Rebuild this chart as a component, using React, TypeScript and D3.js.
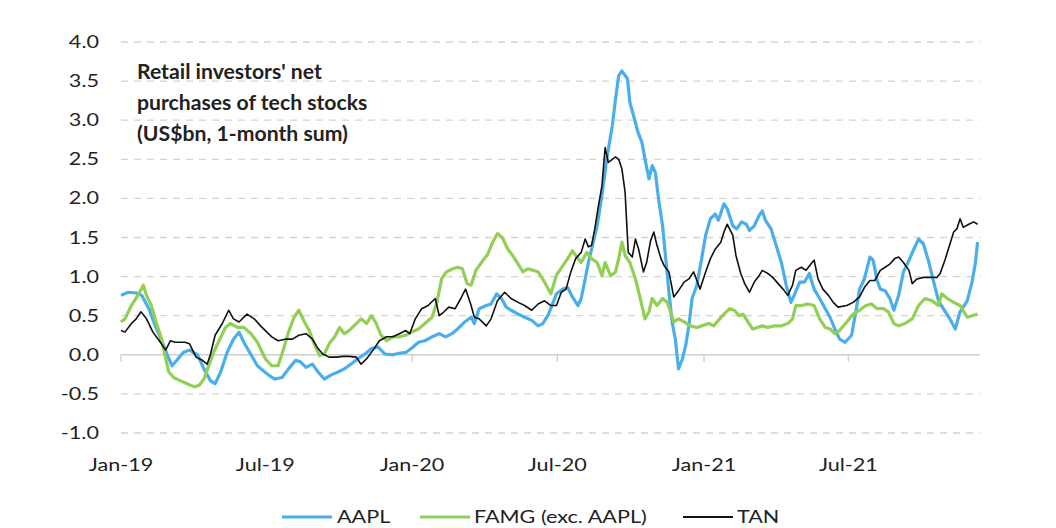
import React from "react";
import * as d3 from "d3";

const W = 1056;
const H = 528;

const yTicks = [-1, -0.5, 0, 0.5, 1, 1.5, 2, 2.5, 3, 3.5, 4];
const xTickDates = ["2019-01-01", "2019-07-01", "2020-01-01", "2020-07-01", "2021-01-01", "2021-07-01"];
const xTickLabels = ["Jan-19", "Jul-19", "Jan-20", "Jul-20", "Jan-21", "Jul-21"];
const seriesNames = ["AAPL", "FAMG (exc. AAPL)", "TAN"];
const seriesColors = ["#4AAEE8", "#92CF55", "#111111"];
const titleLines = ["Retail investors' net", "purchases of tech stocks", "(US$bn, 1-month sum)"];

const AAPL: [string, number][] = [
  ["2019-01-01", 0.76], ["2019-01-10", 0.8], ["2019-01-20", 0.79], ["2019-01-27", 0.76], ["2019-02-05", 0.59],
  ["2019-02-13", 0.37], ["2019-02-21", 0.18], ["2019-02-28", 0.0], ["2019-03-06", -0.14], ["2019-03-12", -0.07],
  ["2019-03-20", 0.03], ["2019-03-28", 0.06], ["2019-04-07", 0.0], ["2019-04-15", -0.18], ["2019-04-23", -0.33],
  ["2019-04-29", -0.37], ["2019-05-06", -0.22], ["2019-05-14", 0.03], ["2019-05-22", 0.2], ["2019-05-29", 0.29],
  ["2019-06-04", 0.16], ["2019-06-13", 0.0], ["2019-06-21", -0.14], ["2019-07-05", -0.26], ["2019-07-13", -0.31],
  ["2019-07-22", -0.29], ["2019-07-30", -0.18], ["2019-08-08", -0.07], ["2019-08-14", -0.09], ["2019-08-21", -0.16],
  ["2019-08-29", -0.12], ["2019-09-05", -0.22], ["2019-09-13", -0.31], ["2019-09-21", -0.26], ["2019-09-30", -0.22],
  ["2019-10-08", -0.18], ["2019-10-16", -0.12], ["2019-10-25", -0.05], ["2019-11-03", 0.01], ["2019-11-11", 0.08],
  ["2019-11-19", 0.1], ["2019-11-28", 0.01], ["2019-12-08", 0.0], ["2019-12-16", 0.02], ["2019-12-24", 0.03],
  ["2019-12-31", 0.08], ["2020-01-09", 0.16], ["2020-01-17", 0.18], ["2020-01-26", 0.23], ["2020-02-04", 0.27],
  ["2020-02-12", 0.23], ["2020-02-20", 0.27], ["2020-02-27", 0.33], ["2020-03-07", 0.42], ["2020-03-15", 0.48],
  ["2020-03-19", 0.4], ["2020-03-25", 0.59], ["2020-04-03", 0.63], ["2020-04-09", 0.65], ["2020-04-16", 0.78],
  ["2020-04-22", 0.72], ["2020-04-28", 0.61], ["2020-05-04", 0.57], ["2020-05-13", 0.52], ["2020-05-21", 0.48],
  ["2020-05-30", 0.44], ["2020-06-07", 0.37], ["2020-06-13", 0.4], ["2020-06-20", 0.52], ["2020-06-30", 0.78],
  ["2020-07-08", 0.84], ["2020-07-14", 0.86], ["2020-07-20", 0.74], ["2020-07-27", 0.63], ["2020-07-31", 0.72],
  ["2020-08-05", 0.97], ["2020-08-09", 1.18], ["2020-08-13", 1.35], ["2020-08-20", 1.65], ["2020-08-26", 2.04],
  ["2020-09-01", 2.5], ["2020-09-08", 2.93], ["2020-09-12", 3.27], ["2020-09-16", 3.57], ["2020-09-20", 3.63],
  ["2020-09-27", 3.53], ["2020-09-30", 3.23], ["2020-10-07", 2.97], ["2020-10-10", 2.85], ["2020-10-15", 2.72],
  ["2020-10-19", 2.5], ["2020-10-24", 2.25], ["2020-10-28", 2.42], ["2020-11-01", 2.33], ["2020-11-05", 1.99],
  ["2020-11-10", 1.65], ["2020-11-14", 1.23], ["2020-11-18", 0.8], ["2020-11-22", 0.42], ["2020-11-26", 0.2],
  ["2020-11-30", -0.18], ["2020-12-05", -0.05], ["2020-12-09", 0.12], ["2020-12-13", 0.37], ["2020-12-17", 0.72],
  ["2020-12-23", 0.89], ["2020-12-29", 1.23], ["2021-01-03", 1.53], ["2021-01-09", 1.74], ["2021-01-15", 1.8],
  ["2021-01-19", 1.72], ["2021-01-26", 1.93], ["2021-01-30", 1.87], ["2021-02-06", 1.65], ["2021-02-11", 1.61],
  ["2021-02-17", 1.7], ["2021-02-23", 1.67], ["2021-02-27", 1.59], ["2021-03-05", 1.65], ["2021-03-11", 1.78],
  ["2021-03-15", 1.84], ["2021-03-19", 1.72], ["2021-03-26", 1.61], ["2021-04-02", 1.38], ["2021-04-08", 1.18],
  ["2021-04-14", 0.89], ["2021-04-20", 0.67], ["2021-04-24", 0.76], ["2021-05-01", 0.93], ["2021-05-07", 0.93],
  ["2021-05-13", 1.04], ["2021-05-19", 0.84], ["2021-05-26", 0.72], ["2021-06-02", 0.59], ["2021-06-08", 0.48],
  ["2021-06-14", 0.33], ["2021-06-20", 0.2], ["2021-06-27", 0.16], ["2021-07-05", 0.25], ["2021-07-11", 0.59],
  ["2021-07-15", 0.84], ["2021-07-21", 0.97], ["2021-07-28", 1.25], ["2021-08-01", 1.21], ["2021-08-06", 0.95],
  ["2021-08-10", 0.84], ["2021-08-16", 0.82], ["2021-08-22", 0.72], ["2021-08-27", 0.57], ["2021-09-02", 0.76],
  ["2021-09-08", 1.06], ["2021-09-15", 1.21], ["2021-09-21", 1.35], ["2021-09-27", 1.48], ["2021-10-03", 1.42],
  ["2021-10-10", 1.18], ["2021-10-16", 0.93], ["2021-10-22", 0.69], ["2021-10-28", 0.59], ["2021-11-04", 0.48],
  ["2021-11-12", 0.33], ["2021-11-18", 0.55], ["2021-11-27", 0.69], ["2021-12-03", 0.93], ["2021-12-07", 1.16],
  ["2021-12-10", 1.44],
];

const FAMG: [string, number][] = [
  ["2019-01-01", 0.42], ["2019-01-06", 0.46], ["2019-01-14", 0.63], ["2019-01-22", 0.76], ["2019-01-29", 0.89],
  ["2019-02-02", 0.76], ["2019-02-08", 0.63], ["2019-02-14", 0.42], ["2019-02-21", 0.2], ["2019-02-26", -0.05],
  ["2019-03-02", -0.22], ["2019-03-08", -0.29], ["2019-03-16", -0.33], ["2019-03-25", -0.37], ["2019-04-03", -0.41],
  ["2019-04-09", -0.39], ["2019-04-15", -0.31], ["2019-04-21", -0.14], ["2019-04-27", 0.03], ["2019-05-04", 0.18],
  ["2019-05-12", 0.35], ["2019-05-18", 0.4], ["2019-05-27", 0.35], ["2019-06-04", 0.35], ["2019-06-13", 0.27],
  ["2019-06-21", 0.16], ["2019-07-01", -0.05], ["2019-07-09", -0.14], ["2019-07-17", -0.14], ["2019-07-24", 0.08],
  ["2019-07-30", 0.29], ["2019-08-06", 0.48], ["2019-08-12", 0.57], ["2019-08-19", 0.42], ["2019-08-25", 0.31],
  ["2019-09-01", 0.12], ["2019-09-07", -0.01], ["2019-09-13", 0.01], ["2019-09-19", 0.14], ["2019-09-26", 0.23],
  ["2019-10-02", 0.35], ["2019-10-08", 0.27], ["2019-10-14", 0.31], ["2019-10-23", 0.4], ["2019-10-29", 0.46],
  ["2019-11-05", 0.4], ["2019-11-11", 0.5], ["2019-11-17", 0.4], ["2019-11-23", 0.25], ["2019-11-30", 0.18],
  ["2019-12-08", 0.23], ["2019-12-16", 0.23], ["2019-12-24", 0.25], ["2019-12-31", 0.29], ["2020-01-09", 0.33],
  ["2020-01-17", 0.4], ["2020-01-26", 0.48], ["2020-02-01", 0.67], ["2020-02-07", 0.97], ["2020-02-13", 1.06],
  ["2020-02-21", 1.1], ["2020-02-27", 1.12], ["2020-03-04", 1.1], ["2020-03-10", 0.91], ["2020-03-15", 0.89],
  ["2020-03-21", 1.08], ["2020-03-30", 1.21], ["2020-04-05", 1.29], ["2020-04-11", 1.44], ["2020-04-17", 1.55],
  ["2020-04-23", 1.5], ["2020-04-30", 1.35], ["2020-05-06", 1.27], ["2020-05-13", 1.16], ["2020-05-19", 1.06],
  ["2020-05-25", 1.1], ["2020-06-01", 1.08], ["2020-06-07", 1.06], ["2020-06-15", 0.93], ["2020-06-23", 0.78],
  ["2020-06-30", 1.02], ["2020-07-08", 1.14], ["2020-07-14", 1.23], ["2020-07-20", 1.33], ["2020-07-24", 1.27],
  ["2020-07-31", 1.18], ["2020-08-07", 1.31], ["2020-08-13", 1.23], ["2020-08-20", 1.18], ["2020-08-26", 1.01],
  ["2020-08-30", 1.18], ["2020-09-06", 1.01], ["2020-09-12", 1.06], ["2020-09-16", 1.23], ["2020-09-20", 1.44],
  ["2020-09-24", 1.27], ["2020-09-30", 1.18], ["2020-10-07", 0.97], ["2020-10-13", 0.72], ["2020-10-19", 0.46],
  ["2020-10-24", 0.55], ["2020-10-28", 0.72], ["2020-11-03", 0.63], ["2020-11-10", 0.72], ["2020-11-16", 0.67],
  ["2020-11-20", 0.55], ["2020-11-24", 0.42], ["2020-11-30", 0.46], ["2020-12-07", 0.42], ["2020-12-15", 0.37],
  ["2020-12-23", 0.35], ["2020-12-29", 0.37], ["2021-01-07", 0.4], ["2021-01-13", 0.37], ["2021-01-19", 0.44],
  ["2021-01-26", 0.52], ["2021-02-02", 0.59], ["2021-02-08", 0.57], ["2021-02-14", 0.5], ["2021-02-19", 0.52],
  ["2021-02-25", 0.42], ["2021-03-03", 0.33], ["2021-03-09", 0.35], ["2021-03-15", 0.37], ["2021-03-22", 0.35],
  ["2021-03-30", 0.37], ["2021-04-08", 0.37], ["2021-04-16", 0.4], ["2021-04-22", 0.46], ["2021-04-26", 0.63],
  ["2021-05-03", 0.63], ["2021-05-11", 0.65], ["2021-05-19", 0.63], ["2021-05-26", 0.46], ["2021-06-02", 0.35],
  ["2021-06-08", 0.33], ["2021-06-14", 0.27], ["2021-06-20", 0.31], ["2021-06-29", 0.42], ["2021-07-07", 0.52],
  ["2021-07-15", 0.57], ["2021-07-23", 0.63], ["2021-07-30", 0.65], ["2021-08-06", 0.59], ["2021-08-14", 0.59],
  ["2021-08-20", 0.55], ["2021-08-27", 0.4], ["2021-09-02", 0.37], ["2021-09-10", 0.4], ["2021-09-19", 0.46],
  ["2021-09-27", 0.63], ["2021-10-05", 0.72], ["2021-10-14", 0.69], ["2021-10-22", 0.63], ["2021-10-26", 0.78],
  ["2021-11-02", 0.72], ["2021-11-10", 0.67], ["2021-11-18", 0.63], ["2021-11-27", 0.48], ["2021-12-03", 0.5],
  ["2021-12-10", 0.52],
];

const TAN: [string, number][] = [
  ["2019-01-01", 0.31], ["2019-01-06", 0.29], ["2019-01-14", 0.4], ["2019-01-20", 0.46], ["2019-01-26", 0.55],
  ["2019-02-02", 0.46], ["2019-02-10", 0.29], ["2019-02-18", 0.18], ["2019-02-26", 0.06], ["2019-03-04", 0.18],
  ["2019-03-10", 0.16], ["2019-03-16", 0.16], ["2019-03-22", 0.16], ["2019-03-28", 0.14], ["2019-04-05", -0.03],
  ["2019-04-13", -0.07], ["2019-04-19", -0.12], ["2019-04-23", 0.0], ["2019-04-29", 0.25], ["2019-05-08", 0.4],
  ["2019-05-16", 0.57], ["2019-05-22", 0.46], ["2019-05-29", 0.42], ["2019-06-08", 0.52], ["2019-06-17", 0.46],
  ["2019-06-25", 0.37], ["2019-07-01", 0.31], ["2019-07-09", 0.23], ["2019-07-17", 0.18], ["2019-07-26", 0.2],
  ["2019-08-04", 0.2], ["2019-08-12", 0.25], ["2019-08-21", 0.27], ["2019-08-29", 0.2], ["2019-09-05", 0.08],
  ["2019-09-11", 0.01], ["2019-09-19", -0.03], ["2019-09-28", -0.03], ["2019-10-06", -0.02], ["2019-10-14", -0.02],
  ["2019-10-23", -0.03], ["2019-10-29", -0.12], ["2019-11-05", -0.05], ["2019-11-13", 0.06], ["2019-11-21", 0.18],
  ["2019-11-30", 0.23], ["2019-12-08", 0.23], ["2019-12-16", 0.27], ["2019-12-24", 0.31], ["2019-12-29", 0.27],
  ["2020-01-05", 0.46], ["2020-01-13", 0.59], ["2020-01-21", 0.63], ["2020-01-30", 0.72], ["2020-02-04", 0.5],
  ["2020-02-10", 0.55], ["2020-02-16", 0.61], ["2020-02-24", 0.59], ["2020-03-02", 0.72], ["2020-03-08", 0.84],
  ["2020-03-15", 0.63], ["2020-03-19", 0.48], ["2020-03-25", 0.46], ["2020-04-03", 0.37], ["2020-04-09", 0.46],
  ["2020-04-17", 0.69], ["2020-04-26", 0.8], ["2020-05-04", 0.72], ["2020-05-13", 0.67], ["2020-05-21", 0.63],
  ["2020-05-30", 0.57], ["2020-06-07", 0.65], ["2020-06-15", 0.69], ["2020-06-23", 0.63], ["2020-06-30", 0.63],
  ["2020-07-06", 0.8], ["2020-07-12", 0.84], ["2020-07-18", 1.06], ["2020-07-24", 1.23], ["2020-07-31", 1.31],
  ["2020-08-05", 1.48], ["2020-08-09", 1.38], ["2020-08-13", 1.4], ["2020-08-17", 1.61], ["2020-08-21", 1.87],
  ["2020-08-26", 2.16], ["2020-08-30", 2.65], ["2020-09-03", 2.46], ["2020-09-08", 2.5], ["2020-09-12", 2.53],
  ["2020-09-16", 2.5], ["2020-09-20", 2.38], ["2020-09-24", 2.08], ["2020-09-28", 1.31], ["2020-10-03", 1.25],
  ["2020-10-07", 1.48], ["2020-10-11", 1.35], ["2020-10-17", 1.06], ["2020-10-21", 1.18], ["2020-10-26", 1.46],
  ["2020-10-30", 1.57], ["2020-11-03", 1.4], ["2020-11-08", 1.23], ["2020-11-12", 1.14], ["2020-11-18", 1.06],
  ["2020-11-24", 0.74], ["2020-11-30", 0.82], ["2020-12-07", 0.93], ["2020-12-13", 0.97], ["2020-12-19", 1.06],
  ["2020-12-23", 0.95], ["2020-12-27", 0.84], ["2021-01-03", 1.06], ["2021-01-09", 1.23], ["2021-01-15", 1.35],
  ["2021-01-22", 1.44], ["2021-01-26", 1.57], ["2021-01-30", 1.67], ["2021-02-06", 1.53], ["2021-02-10", 1.27],
  ["2021-02-16", 1.04], ["2021-02-21", 0.91], ["2021-02-27", 0.8], ["2021-03-05", 0.93], ["2021-03-11", 1.01],
  ["2021-03-15", 1.08], ["2021-03-22", 1.04], ["2021-03-28", 0.99], ["2021-04-04", 0.91], ["2021-04-10", 0.84],
  ["2021-04-16", 0.76], ["2021-04-22", 0.89], ["2021-04-26", 1.08], ["2021-05-03", 1.12], ["2021-05-09", 1.08],
  ["2021-05-15", 1.16], ["2021-05-19", 1.21], ["2021-05-24", 0.97], ["2021-05-30", 0.84], ["2021-06-06", 0.76],
  ["2021-06-12", 0.67], ["2021-06-18", 0.61], ["2021-06-29", 0.63], ["2021-07-07", 0.67], ["2021-07-15", 0.74],
  ["2021-07-21", 0.86], ["2021-07-28", 0.95], ["2021-08-03", 0.95], ["2021-08-10", 1.08], ["2021-08-16", 1.12],
  ["2021-08-22", 1.16], ["2021-08-28", 1.23], ["2021-09-02", 1.25], ["2021-09-08", 1.18], ["2021-09-15", 1.08],
  ["2021-09-19", 0.91], ["2021-09-25", 0.97], ["2021-10-03", 0.99], ["2021-10-11", 0.99], ["2021-10-20", 0.99],
  ["2021-10-24", 1.04], ["2021-10-30", 1.21], ["2021-11-06", 1.44], ["2021-11-10", 1.57], ["2021-11-14", 1.61],
  ["2021-11-18", 1.74], ["2021-11-22", 1.63], ["2021-11-29", 1.67], ["2021-12-05", 1.7], ["2021-12-10", 1.67],
];

const seriesData = [AAPL, FAMG, TAN];
const seriesWidths = [3.2, 3.2, 1.6];

const parse = d3.timeParse("%Y-%m-%d");

const FONT = "Lato, 'Open Sans', sans-serif";
const SX = 1.27;

function StretchText(props: {
  x: number; y: number; anchor?: string; size: number; weight?: string | number; sx?: number; children: React.ReactNode;
}) {
  const { x, y, anchor = "start", size, weight = 400, sx = SX, children } = props;
  return (
    <text
      transform={`translate(${x},${y}) scale(${sx},1)`}
      textAnchor={anchor}
      fontFamily={FONT}
      fontSize={size}
      fontWeight={weight}
      fill="#222"
    >
      {children}
    </text>
  );
}

export default function App() {
  const x = d3.scaleTime().domain([parse("2019-01-01")!, parse("2021-12-13")!]).range([121, 980]);
  const y = d3.scaleLinear().domain([-1, 4]).range([433, 42]);

  const line = d3
    .line<[string, number]>()
    .x((d) => x(parse(d[0])!))
    .y((d) => y(d[1]));

  const [x0, x1] = x.range();
  const fmt = (t: number) => d3.format(".1f")(t).replace("\u2212", "-");

  const legendItems = [
    { lx: 282, tx: 337 },
    { lx: 420, tx: 474 },
    { lx: 683, tx: 737 },
  ];

  return (
    <svg width={W} height={H} style={{ position: "absolute", left: 0, top: 0, background: "#fff" }}>
      <rect x={0} y={0} width={W} height={H} fill="#fff" />
      {yTicks.map((t) =>
        t === 0 ? null : (
          <line key={t} x1={x0} x2={x1} y1={y(t)} y2={y(t)} stroke="#d4d4d4" strokeWidth={1.3} strokeDasharray="7,6" />
        )
      )}
      <line x1={x0} x2={x1} y1={y(0)} y2={y(0)} stroke="#cfcfcf" strokeWidth={1.6} />
      {xTickDates.map((d) => (
        <line key={d} x1={x(parse(d)!)} x2={x(parse(d)!)} y1={y(0)} y2={y(0) + 7} stroke="#cfcfcf" strokeWidth={1.4} />
      ))}
      {yTicks.map((t) => (
        <StretchText key={t} x={99} y={y(t) + 6} anchor="end" size={17}>
          {fmt(t)}
        </StretchText>
      ))}
      {xTickDates.map((d, i) => (
        <StretchText key={d} x={x(parse(d)!)} y={471} anchor="middle" size={17}>
          {xTickLabels[i]}
        </StretchText>
      ))}
      {seriesData.map((s, i) => (
        <path
          key={seriesNames[i]}
          d={line(s) || ""}
          fill="none"
          stroke={seriesColors[i]}
          strokeWidth={seriesWidths[i]}
          strokeLinejoin="round"
        />
      ))}
      {titleLines.map((t, i) => (
        <StretchText key={t} x={137} y={79 + i * 31} size={20} weight={700} sx={1.06}>
          {t}
        </StretchText>
      ))}
      {legendItems.map((it, i) => (
        <g key={seriesNames[i]}>
          <line x1={it.lx} x2={it.lx + 50} y1={517} y2={517} stroke={seriesColors[i]} strokeWidth={i === 2 ? 2 : 3.2} />
          <StretchText x={it.tx} y={523} size={17}>
            {seriesNames[i]}
          </StretchText>
        </g>
      ))}
    </svg>
  );
}
